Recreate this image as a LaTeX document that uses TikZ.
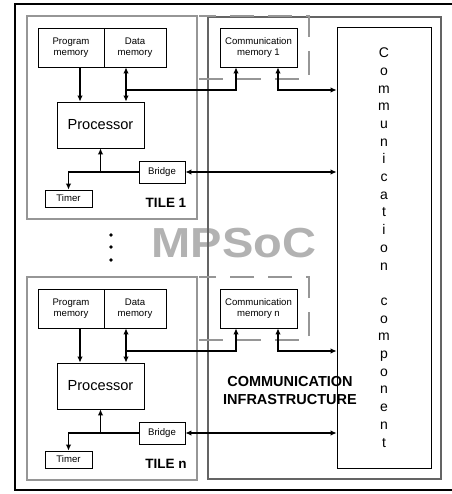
\documentclass[tikz,border=0pt]{standalone}
\usepackage{fontspec}
\setmainfont{Liberation Sans}
\usetikzlibrary{arrows.meta}

\definecolor{tilegray}{RGB}{150,150,150}
\definecolor{infragray}{RGB}{100,100,100}
\definecolor{logogray}{RGB}{178,178,178}

\tikzset{
  blk/.style={draw, line width=0.8pt, fill=white, align=center, inner sep=0pt,
    font=\fontsize{9.6}{11}\selectfont},
  tileframe/.style={draw=tilegray, line width=2pt},
  link/.style={line width=1.2pt, -{Latex[length=6pt,width=5.5pt]}},
  dlink/.style={line width=1.2pt, {Latex[length=6pt,width=5.5pt]}-{Latex[length=6pt,width=5.5pt]}},
}

\begin{document}
\begin{tikzpicture}[x=1pt,y=-1pt]
\useasboundingbox (0,0) rectangle (451,494);

% big label in the background
\node[text=logogray, anchor=base, font=\bfseries\fontsize{42}{42}\selectfont, xscale=1.12]
  (soc) at (234,257) {MPSoC};

% outer frame, cut at the right
\draw[line width=1.6pt] (452,4) -- (15,4) -- (15,490) -- (452,490);

% communication infrastructure
\draw[infragray, line width=2.4pt] (208,17) rectangle (441,479);
\node[blk, minimum width=94pt, minimum height=441pt] (cc) at (384,247.5) {};
\node[align=center, font=\fontsize{14}{17.7}\selectfont] (cctext) at (384,247.5)
  {C\\o\\m\\m\\u\\n\\i\\c\\a\\t\\i\\o\\n\\\mbox{}\\c\\o\\m\\p\\o\\n\\e\\n\\t};
\node[align=center, font=\bfseries\fontsize{14.5}{18}\selectfont] (infra) at (290,391)
  {COMMUNICATION\\INFRASTRUCTURE};

% the two tiles
\foreach \dy/\t in {0/1, 261/n} {
  \begin{scope}[yshift=-\dy pt]
  \draw[tileframe] (27,16) rectangle (197,219);
  \draw[tilegray, line width=1.3pt, dash pattern=on 24pt off 14pt]
    (199,79) -- (309,79) -- (309,16) -- (199,16);

  \node[blk, minimum width=66pt, minimum height=39pt] (pm\t) at (71,47.5) {Program\\memory};
  \node[blk, minimum width=62pt, minimum height=39pt] (dm\t) at (135,47.5) {Data\\memory};
  \node[blk, minimum width=87pt, minimum height=46pt, font=\fontsize{14.6}{16}\selectfont]
    (proc\t) at (100.5,125) {Processor};
  \node[blk, minimum width=46pt, minimum height=22pt] (br\t) at (162,172) {Bridge};
  \node[blk, minimum width=47pt, minimum height=17pt] (tm\t) at (68.5,198.5) {Timer};
  \node[anchor=base, font=\bfseries\fontsize{13.5}{14}\selectfont] (lbl\t) at (166,207) {TILE \t};
  \node[blk, minimum width=77pt, minimum height=39pt] (cm\t) at (258.5,47.5)
    {Communication\\memory \t};

  \coordinate (pj\t) at (80,90);
  \coordinate (dj\t) at (126,90);
  \coordinate (mj\t) at (236,90);
  \coordinate (cj\t) at (278,90);
  \coordinate (bj\t) at (100.5,172);

  \draw[link] (pm\t.south -| pj\t) -- (proc\t.north -| pj\t);
  \draw[dlink] (dm\t.south -| dj\t) -- (proc\t.north -| dj\t);
  \draw[link] (dj\t) -- (mj\t) -- (cm\t.south -| mj\t);
  \draw[dlink] (cm\t.south -| cj\t) |- (cc.west |- cj\t);
  \draw[dlink] (br\t.east) -- (cc.west |- br\t.east);
  \draw[link] (bj\t) -- (proc\t.south);
  \draw[link] (br\t.west) -| (tm\t.north);
  \end{scope}
}

% dots between the tiles
\foreach \y in {235,247,260}
  \fill (111,\y) circle (1.8pt);
\end{tikzpicture}
\end{document}
